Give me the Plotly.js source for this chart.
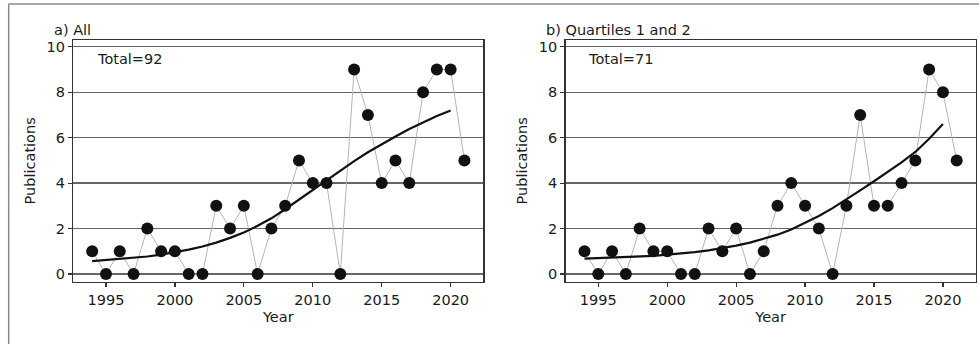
<!DOCTYPE html>
<html>
<head>
<meta charset="utf-8">
<script src="https://cdn.plot.ly/plotly-3.0.1.min.js"></script>
<style>html,body{margin:0;padding:0;background:#fff;}#chart{width:979px;height:344px;}</style>
</head>
<body>
<div id="chart"></div>
<script>
const years = [1994,1995,1996,1997,1998,1999,2000,2001,2002,2003,2004,2005,2006,2007,2008,2009,2010,2011,2012,2013,2014,2015,2016,2017,2018,2019,2020,2021];
const pubsAll = [1,0,1,0,2,1,1,0,0,3,2,3,0,2,3,5,4,4,0,9,7,4,5,4,8,9,9,5];
const pubsQ12 = [1,0,1,0,2,1,1,0,0,2,1,2,0,1,3,4,3,2,0,3,7,3,3,4,5,9,8,5];
const trendYears = [1994,1995,1996,1997,1998,1999,2000,2001,2002,2003,2004,2005,2006,2007,2008,2009,2010,2011,2012,2013,2014,2015,2016,2017,2018,2019,2020];
const trendAll = [0.57,0.62,0.66,0.71,0.77,0.85,0.95,1.07,1.21,1.38,1.59,1.83,2.12,2.45,2.85,3.28,3.72,4.15,4.57,4.97,5.36,5.72,6.05,6.38,6.68,6.95,7.2];
const trendQ12 = [0.68,0.70,0.72,0.74,0.76,0.80,0.85,0.90,0.96,1.04,1.13,1.25,1.38,1.54,1.73,1.96,2.24,2.55,2.90,3.28,3.68,4.08,4.48,4.91,5.37,5.95,6.6];
const panelTitles = ["a) All", "b) Quartiles 1 and 2"];
const totals = ["Total=92", "Total=71"];
const xTicks = [1995,2000,2005,2010,2015,2020];
const yTicks = [0,2,4,6,8,10];

const W = 979, H = 344;
const font = 'DejaVu Sans, sans-serif';
const fs = 14.5;
const txt = '#1a1a1a';

function dataTrace(x, y, xa, ya) {
  return {x: x, y: y, xaxis: xa, yaxis: ya, type: 'scatter', mode: 'lines+markers',
    line: {color: '#b4b4b4', width: 1}, marker: {color: '#111', size: 12}, hoverinfo: 'skip', showlegend: false, cliponaxis: false};
}
function trendTrace(x, y, xa, ya) {
  return {x: x, y: y, xaxis: xa, yaxis: ya, type: 'scatter', mode: 'lines',
    line: {color: '#111', width: 2.2}, hoverinfo: 'skip', showlegend: false};
}

const traces = [
  dataTrace(years, pubsAll, 'x', 'y'),
  trendTrace(trendYears, trendAll, 'x', 'y'),
  dataTrace(years, pubsQ12, 'x2', 'y2'),
  trendTrace(trendYears, trendQ12, 'x2', 'y2')
];

const yDom = [1 - 281.7 / H, 1 - 40 / H];
function xAxis(dom, anchor) {
  return {domain: dom, anchor: anchor, range: [1992.63, 2022.37], tickvals: xTicks,
    showgrid: false, zeroline: false, showline: true, mirror: true, linecolor: '#333', linewidth: 1.4,
    ticks: 'outside', ticklen: 4, tickwidth: 1.2, tickcolor: '#333',
    tickfont: {family: font, size: fs, color: txt},
    title: {text: 'Year', font: {family: font, size: fs, color: txt}, standoff: 5}};
}
function yAxis(anchor) {
  return {domain: yDom, anchor: anchor, range: [-0.34, 10.3], tickvals: yTicks,
    showgrid: true, gridcolor: '#666', gridwidth: 1.3, zeroline: false,
    showline: true, mirror: true, linecolor: '#333', linewidth: 1.4,
    ticks: 'outside', ticklen: 4, tickwidth: 1.2, tickcolor: '#333',
    tickfont: {family: font, size: fs, color: txt},
    title: {text: 'Publications', font: {family: font, size: fs, color: txt}, standoff: 7}};
}

const layout = {
  width: W, height: H,
  margin: {l: 0, r: 0, t: 0, b: 0},
  paper_bgcolor: '#fff', plot_bgcolor: '#fff',
  xaxis: xAxis([73.3 / W, 483.3 / W], 'y'),
  yaxis: yAxis('x'),
  xaxis2: xAxis([565.6 / W, 975.6 / W], 'y2'),
  yaxis2: yAxis('x2'),
  annotations: [
    {text: panelTitles[0], xref: 'paper', yref: 'paper', x: 52 / W, y: 1 - 30 / H, xanchor: 'left', yanchor: 'middle', showarrow: false, font: {family: font, size: fs, color: txt}},
    {text: panelTitles[1], xref: 'paper', yref: 'paper', x: 544 / W, y: 1 - 30 / H, xanchor: 'left', yanchor: 'middle', showarrow: false, font: {family: font, size: fs, color: txt}},
    {text: totals[0], xref: 'paper', yref: 'paper', x: 95 / W, y: 1 - 59 / H, xanchor: 'left', yanchor: 'middle', showarrow: false, font: {family: font, size: fs, color: txt}},
    {text: totals[1], xref: 'paper', yref: 'paper', x: 586 / W, y: 1 - 59 / H, xanchor: 'left', yanchor: 'middle', showarrow: false, font: {family: font, size: fs, color: txt}}
  ],
  shapes: [
    {type: 'line', xref: 'paper', yref: 'paper', x0: 8.7 / W, x1: 1.01, y0: 1 - 4 / H, y1: 1 - 4 / H, line: {color: '#888', width: 1.5}},
    {type: 'line', xref: 'paper', yref: 'paper', x0: 8.7 / W, x1: 8.7 / W, y0: 1 - 4 / H, y1: -0.01, line: {color: '#888', width: 1.5}}
  ]
};

Plotly.newPlot('chart', traces, layout, {staticPlot: true, displayModeBar: false});
</script>
</body>
</html>
